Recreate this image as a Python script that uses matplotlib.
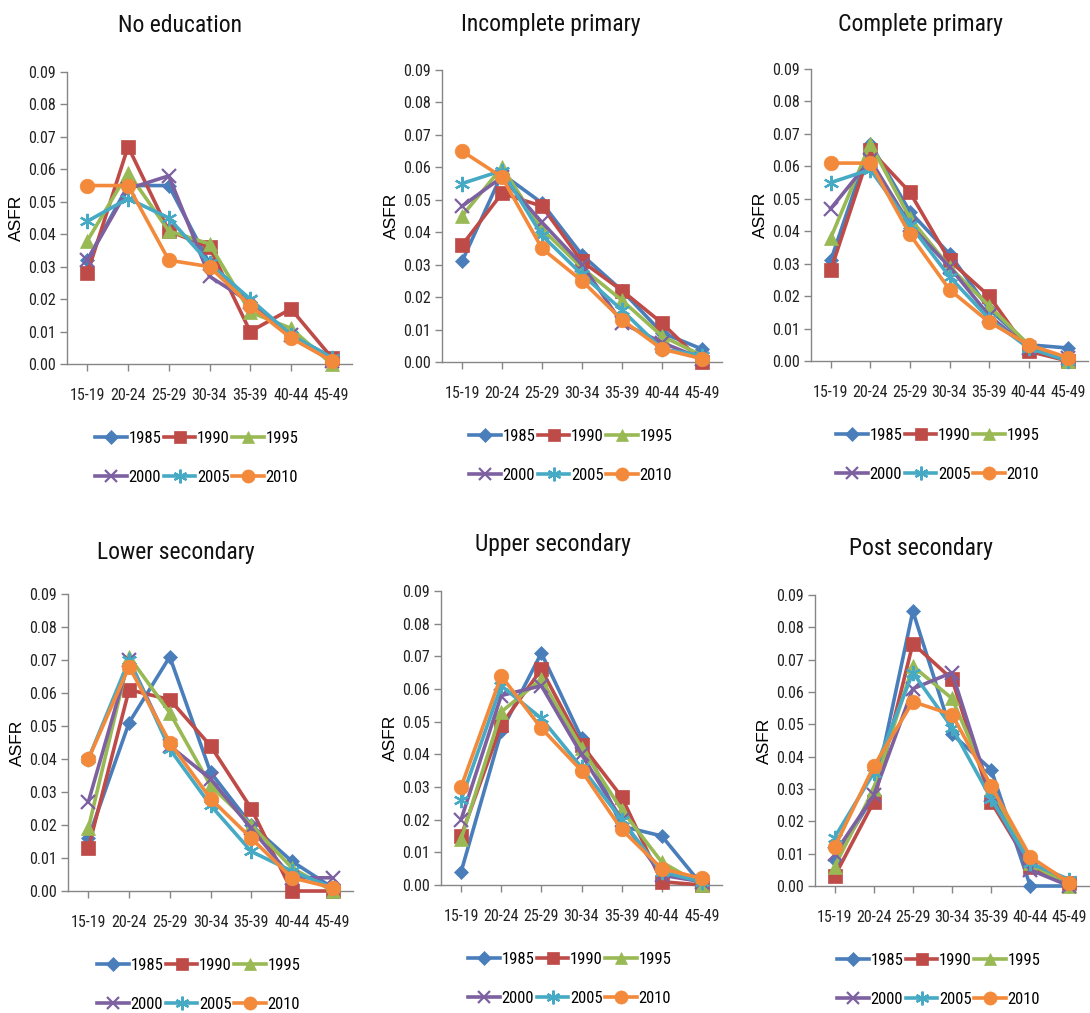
import matplotlib
matplotlib.use("Agg")
import matplotlib.pyplot as plt
from matplotlib import font_manager

age_groups = ["15-19", "20-24", "25-29", "30-34", "35-39", "40-44", "45-49"]
years = ["1985", "1990", "1995", "2000", "2005", "2010"]
panel_titles = ["No education", "Incomplete primary", "Complete primary",
                "Lower secondary", "Upper secondary", "Post secondary"]
y_ticks = [0.00, 0.01, 0.02, 0.03, 0.04, 0.05, 0.06, 0.07, 0.08, 0.09]

no_education = {
    "1985": [0.032, 0.055, 0.055, 0.031, 0.019, 0.009, 0.002],
    "1990": [0.028, 0.067, 0.041, 0.036, 0.010, 0.017, 0.002],
    "1995": [0.038, 0.059, 0.041, 0.037, 0.016, 0.011, 0.000],
    "2000": [0.032, 0.054, 0.058, 0.027, 0.019, 0.009, 0.001],
    "2005": [0.044, 0.051, 0.045, 0.031, 0.020, 0.009, 0.002],
    "2010": [0.055, 0.055, 0.032, 0.030, 0.018, 0.008, 0.001],
}
incomplete_primary = {
    "1985": [0.031, 0.058, 0.049, 0.033, 0.022, 0.009, 0.004],
    "1990": [0.036, 0.052, 0.048, 0.031, 0.022, 0.012, 0.000],
    "1995": [0.045, 0.060, 0.041, 0.029, 0.019, 0.008, 0.002],
    "2000": [0.048, 0.057, 0.043, 0.030, 0.012, 0.006, 0.001],
    "2005": [0.055, 0.059, 0.039, 0.027, 0.016, 0.004, 0.002],
    "2010": [0.065, 0.057, 0.035, 0.025, 0.013, 0.004, 0.001],
}
complete_primary = {
    "1985": [0.031, 0.067, 0.046, 0.033, 0.016, 0.005, 0.004],
    "1990": [0.028, 0.065, 0.052, 0.031, 0.020, 0.003, 0.000],
    "1995": [0.038, 0.067, 0.044, 0.029, 0.017, 0.005, 0.000],
    "2000": [0.047, 0.062, 0.042, 0.029, 0.014, 0.004, 0.001],
    "2005": [0.055, 0.059, 0.042, 0.026, 0.013, 0.004, 0.000],
    "2010": [0.061, 0.061, 0.039, 0.022, 0.012, 0.005, 0.001],
}
lower_secondary = {
    "1985": [0.016, 0.051, 0.071, 0.036, 0.020, 0.009, 0.001],
    "1990": [0.013, 0.061, 0.058, 0.044, 0.025, 0.000, 0.000],
    "1995": [0.019, 0.071, 0.054, 0.032, 0.020, 0.007, 0.000],
    "2000": [0.027, 0.070, 0.044, 0.034, 0.019, 0.004, 0.004],
    "2005": [0.040, 0.070, 0.043, 0.026, 0.012, 0.006, 0.001],
    "2010": [0.040, 0.068, 0.045, 0.028, 0.016, 0.004, 0.001],
}
upper_secondary = {
    "1985": [0.004, 0.047, 0.071, 0.045, 0.018, 0.015, 0.000],
    "1990": [0.015, 0.049, 0.066, 0.043, 0.027, 0.001, 0.000],
    "1995": [0.014, 0.053, 0.063, 0.042, 0.023, 0.007, 0.000],
    "2000": [0.020, 0.058, 0.061, 0.040, 0.020, 0.003, 0.001],
    "2005": [0.026, 0.061, 0.051, 0.036, 0.020, 0.004, 0.001],
    "2010": [0.030, 0.064, 0.048, 0.035, 0.017, 0.005, 0.002],
}
post_secondary = {
    "1985": [0.008, 0.028, 0.085, 0.047, 0.036, 0.000, 0.000],
    "1990": [0.003, 0.026, 0.075, 0.064, 0.026, 0.006, 0.001],
    "1995": [0.006, 0.030, 0.068, 0.058, 0.030, 0.007, 0.000],
    "2000": [0.010, 0.028, 0.061, 0.066, 0.028, 0.005, 0.000],
    "2005": [0.015, 0.035, 0.066, 0.049, 0.027, 0.007, 0.002],
    "2010": [0.012, 0.037, 0.057, 0.053, 0.031, 0.009, 0.001],
}
panels = [no_education, incomplete_primary, complete_primary,
          lower_secondary, upper_secondary, post_secondary]

colors = {"1985": "#4A7EBB", "1990": "#BE4B48", "1995": "#98B954",
          "2000": "#7D60A0", "2005": "#46AAC5", "2010": "#F38A3B"}
markers = {"1985": "D", "1990": "s", "1995": "^", "2000": "x",
           "2005": (6, 2, 0), "2010": "o"}
msizes = {"1985": 7.5, "1990": 9.5, "1995": 9.5, "2000": 10, "2005": 11, "2010": 10.5}

# pick a narrow font if one is installed
available = {f.name for f in font_manager.fontManager.ttflist}
narrow_prefs = ["Liberation Sans Narrow", "DejaVu Sans Condensed", "Roboto Condensed",
                "Open Sans Condensed", "Noto Sans Condensed", "Arial Narrow"]
narrow = next((n for n in narrow_prefs if n in available), None)
if narrow is not None:
    NARROW = [narrow, "DejaVu Sans"]
    tick_fs, leg_fs, title_fs = 11.5, 12, 17
else:
    base = "Roboto" if "Roboto" in available else "DejaVu Sans"
    NARROW = [base, "DejaVu Sans"]
    tick_fs, leg_fs, title_fs = 8.8, 9.8, 14.5

W, H = 1090, 1013
fig = plt.figure(figsize=(W / 100, H / 100), dpi=100)

# pixel boxes: left, right, top, bottom
boxes = [(67, 352, 72, 364), (442, 722, 70, 362), (811, 1088, 69, 361),
         (68, 353, 594, 891), (441, 722, 591, 885), (815, 1089, 595, 886)]
title_pos = [(180, 25), (551, 25), (921, 25), (176, 553), (553, 545), (921, 548)]
legend_x = [95, 469, 836, 97, 468, 837]

grey = "#868686"

x = list(range(len(age_groups)))
for i, data in enumerate(panels):
    l, r, t, b = boxes[i]
    ax = fig.add_axes([l / W, 1 - b / H, (r - l) / W, (b - t) / H])
    handles = {}
    for yr in years:
        line, = ax.plot(x, data[yr], color=colors[yr], lw=2.6,
                        marker=markers[yr], markersize=msizes[yr],
                        markeredgewidth=1.6 if yr in ("2000", "2005") else 0.5,
                        markeredgecolor=colors[yr], clip_on=False, zorder=3)
        handles[yr] = line
    ax.set_xlim(-0.5, 6.5)
    ax.set_ylim(0, 0.09)
    ax.set_xticks(x)
    ax.set_xticklabels(age_groups, family=NARROW, fontsize=tick_fs)
    ax.set_yticks(y_ticks)
    ax.set_yticklabels([f"{v:.2f}" for v in y_ticks], family=NARROW, fontsize=tick_fs)
    for s in ("top", "right"):
        ax.spines[s].set_visible(False)
    for s in ("left", "bottom"):
        ax.spines[s].set_color(grey)
        ax.spines[s].set_linewidth(1.0)
    ax.tick_params(axis="both", colors=grey, labelcolor="#222222", length=5, width=1)
    ax.tick_params(axis="x", pad=12)
    ax.tick_params(axis="y", pad=3)
    ax.set_ylabel("ASFR", family=["Liberation Sans", "DejaVu Sans"], fontsize=12.5,
                  labelpad=3)
    tx, ty = title_pos[i]
    fig.text(tx / W, 1 - ty / H, panel_titles[i], ha="center", va="center",
             family=NARROW, fontsize=title_fs, color="#111111")
    order = ["1985", "2000", "1990", "2005", "1995", "2010"]
    fig.legend([handles[k] for k in order], order, ncol=3,
               loc="upper left",
               bbox_to_anchor=(legend_x[i] / W, 1 - (b + 67) / H),
               frameon=False, prop={"family": NARROW, "size": leg_fs},
               handlelength=1.9, handletextpad=0.1, columnspacing=0.15,
               labelspacing=1.45, borderpad=0, borderaxespad=0,
               markerscale=0.9)

fig.savefig("out.png", dpi=100)
